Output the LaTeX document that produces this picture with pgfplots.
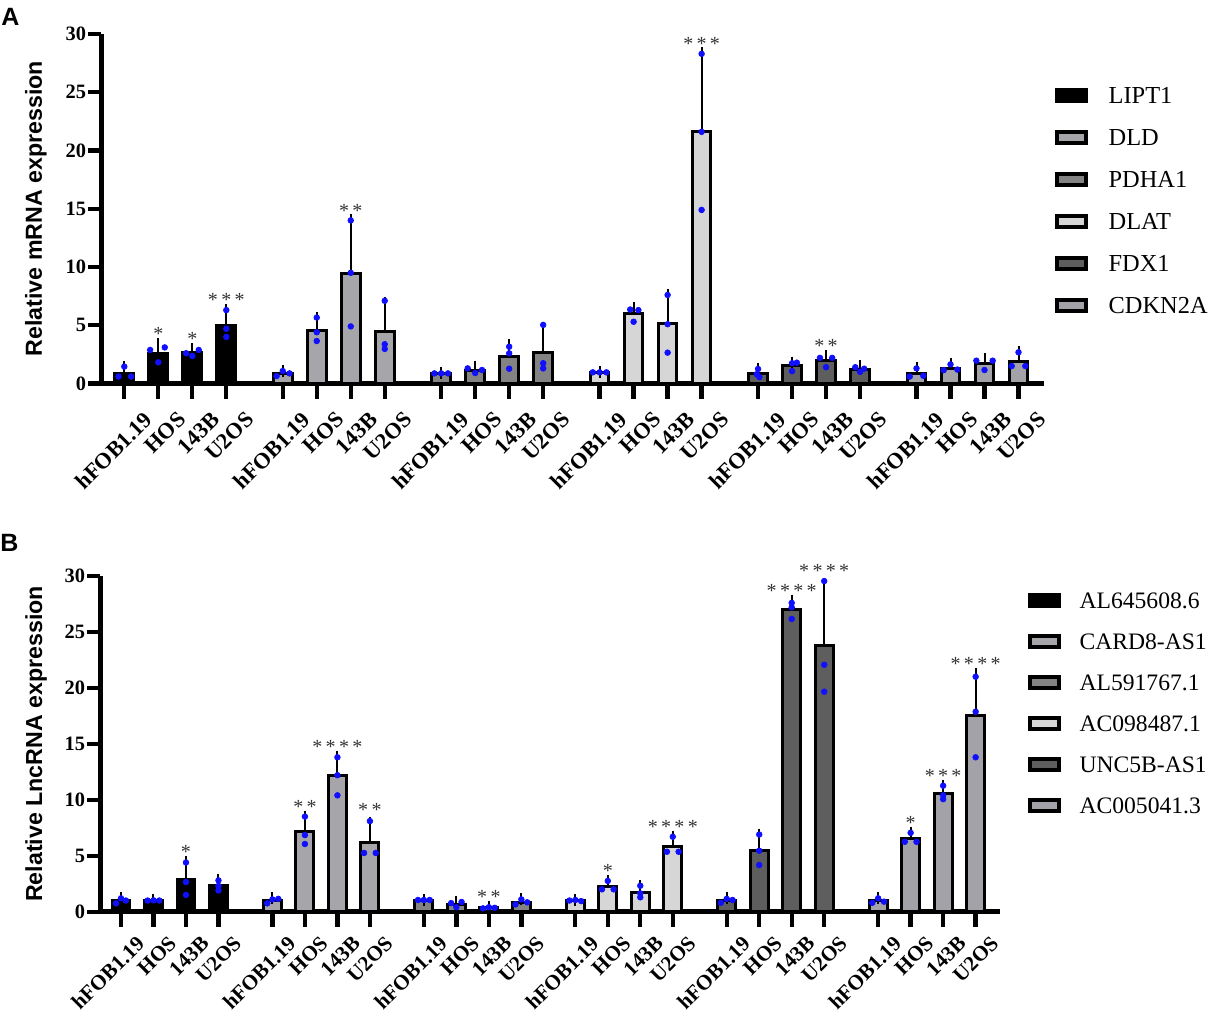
\documentclass[border=0pt]{standalone}
\usepackage{fontspec}
\setmainfont{Liberation Serif}
\newfontfamily\sansf{Liberation Sans}
\usepackage{pgfplots}
\pgfplotsset{compat=1.18}
\definecolor{cDLD}{HTML}{A6A6AA}
\definecolor{cPDH}{HTML}{838383}
\definecolor{cDLA}{HTML}{D6D6D6}
\definecolor{cFDX}{HTML}{5E5E5E}
\definecolor{cCDK}{HTML}{A2A2A8}
\definecolor{dotblue}{HTML}{1010FF}
\pgfplotsset{
  base/.style={
    scale only axis, clip=false,
    xmin=-0.685, xmax=27.05, ymin=0, ymax=30,
    axis x line*=bottom, axis y line*=left,
    axis line style={line width=2.5pt, black},
    tick align=outside,
    xtick={0,1,2,3,4.66,5.66,6.66,7.66,9.32,10.32,11.32,12.32,13.98,14.98,15.98,16.98,18.64,19.64,20.64,21.64,23.3,24.3,25.3,26.3},
    xticklabels={hFOB1.19,HOS,143B,U2OS,hFOB1.19,HOS,143B,U2OS,hFOB1.19,HOS,143B,U2OS,hFOB1.19,HOS,143B,U2OS,hFOB1.19,HOS,143B,U2OS,hFOB1.19,HOS,143B,U2OS},
    ytick={0,5,10,15,20,25,30},
    /pgf/number format/assume math mode=true,
    tick style={line width=2.2pt, black},
    xtick style={/pgfplots/major tick length=7.5pt},
    ytick style={/pgfplots/major tick length=6.5pt},
    yticklabel style={inner sep=0pt, xshift=-3pt, font=\bfseries\fontsize{10.2}{12}\selectfont},
    legend image code/.code={\draw[##1, line width=2pt, draw=black] (1pt,-2.75pt) rectangle (15.5pt,2.75pt);},
    legend cell align=left,
  },
  barp/.style={ybar, bar width=0.55, bar shift=0pt, draw=black, line width=1.5pt, forget plot,
    error bars/y dir=plus, error bars/y explicit, error bars/error mark=-,
    error bars/error bar style={line width=1pt, black},
    error bars/error mark options={line width=1pt, black, mark size=3pt}},
  dotp/.style={only marks, mark=*, mark size=1.4pt, color=dotblue, mark options={draw=none, fill=dotblue}, forget plot},
  starp/.style={only marks, mark=none, forget plot, nodes near coords, point meta=explicit symbolic,
    nodes near coords style={anchor=south, inner sep=0pt, yshift=1.5pt, font=\fontsize{10}{10}\selectfont, text=black!80}},
}
\begin{document}
\begin{tikzpicture}
\useasboundingbox (0,0) rectangle (604pt,-506.5pt);
\node[anchor=base west, inner sep=0pt, font=\sansf\bfseries\fontsize{12.5}{14}\selectfont] at (0.5pt,-12.5pt) {A};
\node[anchor=base west, inner sep=0pt, font=\sansf\bfseries\fontsize{12.5}{14}\selectfont] at (0pt,-275.85pt) {B};
% ---------------- Panel A ----------------
\begin{axis}[base, at={(50.5pt,-191.75pt)}, anchor=south west, width=471.5pt, height=174.75pt,
  xticklabel style={rotate=45, anchor=north east, inner sep=0pt, xshift=0pt, yshift=-12.75pt, font=\bfseries\fontsize{11.2}{13}\selectfont},
  ylabel={Relative mRNA expression},
  ylabel style={font=\sansf\bfseries\fontsize{11.6}{14}\selectfont, at={(axis description cs:-0.069,0.5)}, anchor=center},
  legend style={at={(axis description cs:1.0113,0.846)}, anchor=north west, draw=none, fill=none, inner sep=0pt, outer sep=0pt,
    row sep=13pt, column sep=10.5pt, font=\fontsize{12.2}{14}\selectfont, nodes={inner sep=0pt, text height=8pt, text depth=0pt}}]
\addplot[barp, fill=black] table[x=x,y=y,y error plus=e] {
x y e
0 0.88 0.57
1 2.60 0.76
2 2.62 0.34
3 5.00 1.32
};
\addplot[barp, fill=cDLD] table[x=x,y=y,y error plus=e] {
x y e
4.66 0.86 0.24
5.66 4.57 1.09
6.66 9.45 4.55
7.66 4.48 2.47
};
\addplot[barp, fill=cPDH] table[x=x,y=y,y error plus=e] {
x y e
9.32 0.87 0.05
10.32 1.12 0.33
11.32 2.34 0.96
12.32 2.69 2.06
};
\addplot[barp, fill=cDLA] table[x=x,y=y,y error plus=e] {
x y e
13.98 0.92 0.06
14.98 5.98 0.50
15.98 5.11 2.49
16.98 21.60 6.73
};
\addplot[barp, fill=cFDX] table[x=x,y=y,y error plus=e] {
x y e
18.64 0.87 0.38
19.64 1.53 0.26
20.64 1.95 0.41
21.64 1.22 0.31
};
\addplot[barp, fill=cCDK] table[x=x,y=y,y error plus=e] {
x y e
23.30 0.85 0.45
24.30 1.33 0.37
25.30 1.69 0.41
26.30 1.89 0.79
};
\addplot[dotp] table {
-0.17 0.60
0 1.45
0.20 0.60
0.76 2.88
1 1.82
1.19 3.10
1.82 2.60
2 2.36
2.19 2.88
3 6.30
3 4.70
3 4.00
4.48 0.64
4.66 1.07
4.86 0.87
5.66 5.66
5.66 4.40
5.66 3.65
6.66 14.00
6.66 9.50
6.66 4.90
7.66 7.10
7.66 3.37
7.66 2.97
9.12 0.87
9.32 0.87
9.52 0.87
10.10 1.30
10.32 0.90
10.52 1.16
11.32 3.16
11.32 2.59
11.32 1.27
12.32 5.03
12.32 1.74
12.32 1.30
13.78 0.96
13.98 0.96
14.18 0.96
14.88 6.35
15.12 6.30
14.98 5.30
15.98 7.60
15.98 5.09
15.98 2.65
16.98 28.30
16.98 21.60
16.98 14.90
18.64 1.25
18.60 0.80
18.68 0.55
19.64 1.74
19.78 1.79
19.64 1.06
20.46 2.20
20.82 2.20
20.64 1.40
21.50 1.40
21.76 1.27
21.64 1.00
23.10 0.60
23.30 1.30
23.50 0.66
24.10 1.15
24.30 1.64
24.50 1.20
25.06 1.96
25.54 1.96
25.30 1.16
26.10 1.50
26.30 2.68
26.50 1.50
};
\addplot[starp] table[meta=s] {
x y s
1 3.36 *
2 2.96 *
3 6.32 *\,*\,*
6.66 14.0 *\,*
16.98 28.33 *\,*\,*
20.64 2.36 *\,*
};
\addlegendimage{fill=black}\addlegendentry{LIPT1}
\addlegendimage{fill=cDLD}\addlegendentry{DLD}
\addlegendimage{fill=cPDH}\addlegendentry{PDHA1}
\addlegendimage{fill=cDLA}\addlegendentry{DLAT}
\addlegendimage{fill=cFDX}\addlegendentry{FDX1}
\addlegendimage{fill=cCDK}\addlegendentry{CDKN2A}
\end{axis}
% ---------------- Panel B ----------------
\begin{axis}[base, at={(50pt,-455.85pt)}, anchor=south west, width=450pt, height=167.85pt,
  xmin=-0.646, xmax=27.05,
  xticklabel style={rotate=45, anchor=north east, inner sep=0pt, xshift=0pt, yshift=-10pt, font=\bfseries\fontsize{10.6}{13}\selectfont},
  ylabel={Relative LncRNA expression},
  ylabel style={font=\sansf\bfseries\fontsize{11.6}{14}\selectfont, at={(axis description cs:-0.071,0.5)}, anchor=center},
  legend style={at={(axis description cs:1.0311,0.9523)}, anchor=north west, draw=none, fill=none, inner sep=0pt, outer sep=0pt,
    row sep=12.5pt, column sep=9.3pt, font=\fontsize{11.8}{14}\selectfont, nodes={inner sep=0pt, text height=8pt, text depth=0pt}}]
\addplot[barp, fill=black] table[x=x,y=y,y error plus=e] {
x y e
0 0.98 0.22
1 1.00 0.05
2 2.85 1.60
3 2.33 0.50
};
\addplot[barp, fill=cDLD] table[x=x,y=y,y error plus=e] {
x y e
4.66 1.00 0.20
5.66 7.13 1.36
6.66 12.13 1.72
7.66 6.20 1.76
};
\addplot[barp, fill=cPDH] table[x=x,y=y,y error plus=e] {
x y e
9.32 1.00 0.05
10.32 0.68 0.22
11.32 0.35 0.05
12.32 0.86 0.24
};
\addplot[barp, fill=cDLA] table[x=x,y=y,y error plus=e] {
x y e
13.98 0.98 0.07
14.98 2.25 0.52
15.98 1.75 0.57
16.98 5.80 0.90
};
\addplot[barp, fill=cFDX] table[x=x,y=y,y error plus=e] {
x y e
18.64 1.00 0.20
19.64 5.50 1.40
20.64 27.00 0.80
21.64 23.76 5.23
};
\addplot[barp, fill=cCDK] table[x=x,y=y,y error plus=e] {
x y e
23.30 0.97 0.23
24.30 6.52 0.54
25.30 10.57 0.69
26.30 17.56 3.68
};
\addplot[dotp] table {
-0.15 0.75
0 1.20
0.15 1.00
0.82 1.00
1 1.02
1.18 1.00
2 4.40
2 2.65
2 1.50
3 2.80
3 2.30
3 1.90
4.50 0.75
4.66 1.10
4.84 1.15
5.66 8.50
5.66 6.85
5.66 6.05
6.66 13.80
6.66 12.20
6.66 10.40
7.66 8.10
7.48 5.25
7.84 5.25
9.14 1.05
9.32 1.05
9.50 1.05
10.16 0.77
10.32 0.40
10.48 0.87
11.14 0.30
11.32 0.40
11.50 0.35
12.14 0.65
12.32 1.10
12.50 0.84
13.80 1.00
13.98 1.05
14.16 0.95
14.80 2.00
14.98 2.75
15.16 2.00
15.98 2.32
15.98 1.64
15.98 1.29
16.80 5.36
16.98 6.70
17.16 5.36
18.46 0.80
18.64 1.15
18.82 1.05
19.64 6.90
19.64 5.45
19.64 4.17
20.64 27.60
20.64 27.20
20.64 26.16
21.64 29.55
21.64 22.07
21.64 19.66
23.12 0.80
23.30 1.20
23.48 0.90
24.12 6.25
24.30 7.05
24.48 6.25
25.30 11.26
25.30 10.40
25.30 10.06
26.30 21.00
26.30 17.87
26.30 13.80
};
\addplot[starp] table[meta=s] {
x y s
2 4.45 *
5.66 8.49 *\,*
6.66 13.85 *\,*\,*\,*
7.66 8.20 *\,*
11.32 0.45 *\,*
14.98 2.77 *
16.98 6.70 *\,*\,*\,*
20.64 27.80 *\,*\,*\,*
21.64 29.60 *\,*\,*\,*
24.30 7.06 *
25.30 11.26 *\,*\,*
26.30 21.24 *\,*\,*\,*
};
\addlegendimage{fill=black}\addlegendentry{AL645608.6}
\addlegendimage{fill=cDLD}\addlegendentry{CARD8-AS1}
\addlegendimage{fill=cPDH}\addlegendentry{AL591767.1}
\addlegendimage{fill=cDLA}\addlegendentry{AC098487.1}
\addlegendimage{fill=cFDX}\addlegendentry{UNC5B-AS1}
\addlegendimage{fill=cCDK}\addlegendentry{AC005041.3}
\end{axis}
\end{tikzpicture}
\end{document}
